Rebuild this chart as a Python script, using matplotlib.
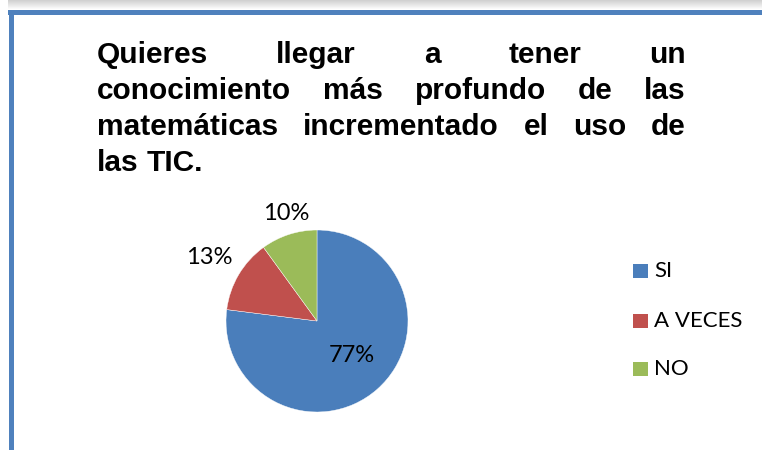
import numpy as np
import matplotlib.pyplot as plt
from matplotlib.patches import Rectangle

labels = ['SI', 'A VECES', 'NO']
values = [77, 13, 10]
colors = ['#4A7EBB', '#C0504D', '#9BBB59']
title_lines = [
    'Quieres llegar a tener un',
    'conocimiento más profundo de las',
    'matemáticas incrementado el uso de',
    'las TIC.',
]

W, H = 762, 450
fig = plt.figure(figsize=(W / 100, H / 100), dpi=100)
fig.patch.set_facecolor('white')

# shadow above frame
for i in range(10):
    fig.patches.append(Rectangle((8 / W, (H - 10 + i) / H), 1, 1 / H,
                                 transform=fig.transFigure,
                                 color='#808080', alpha=0.04 * i, lw=0))
# frame border
fig.patches.append(Rectangle((8 / W, (H - 15) / H), 1, 5 / H,
                             transform=fig.transFigure, color='#4F81BD', lw=0))
fig.patches.append(Rectangle((9 / W, 0), 5 / W, (H - 10) / H,
                             transform=fig.transFigure, color='#4F81BD', lw=0))

# justified title
renderer = fig.canvas.get_renderer()
left, right = 97, 686
baselines = [63, 99, 135, 171]
tfont = dict(family='Liberation Sans', fontweight='bold', fontsize=21.5, color='black')
for n, line in enumerate(title_lines):
    words = line.split()
    ys = (H - baselines[n]) / H
    texts = [fig.text(0, ys, w, va='baseline', ha='left', **tfont) for w in words]
    widths = [t.get_window_extent(renderer).width for t in texts]
    if n < len(title_lines) - 1:
        gap = (right - left - sum(widths)) / (len(words) - 1)
    else:
        gap = 8
    x = left
    for t, w in zip(texts, widths):
        t.set_x(x / W)
        x += w + gap

# pie
cx, cy, r = 317, 321, 91
ax = fig.add_axes([(cx - r) / W, (H - cy - r) / H, 2 * r / W, 2 * r / H])
wedges, _ = ax.pie(values, colors=colors, startangle=90, counterclock=False,
                   radius=1, wedgeprops=dict(edgecolor='white', linewidth=0.3))
ax.set_xlim(-1, 1)
ax.set_ylim(-1, 1)
ax.set_aspect('equal')
ax.axis('off')

# percentage labels
lfont = dict(family='Lato', fontsize=17, color='black', ha='center', va='center')
label_pos = [(352, 356), (209, 257), (286, 214)]
for v, (px, py) in zip(values, label_pos):
    fig.text(px / W, (H - py) / H, f'{v}%', **lfont)

# legend, drawn by hand
leg_y = [271, 321, 369]
for lab, col, yy in zip(labels, colors, leg_y):
    fig.patches.append(Rectangle((633 / W, (H - yy - 7) / H), 15 / W, 14 / H,
                                 transform=fig.transFigure, facecolor=col,
                                 edgecolor='none'))
    fig.text(654 / W, (H - yy) / H, lab, family='Lato', fontsize=16,
             color='black', ha='left', va='center')

fig.savefig('out.png', dpi=100)
